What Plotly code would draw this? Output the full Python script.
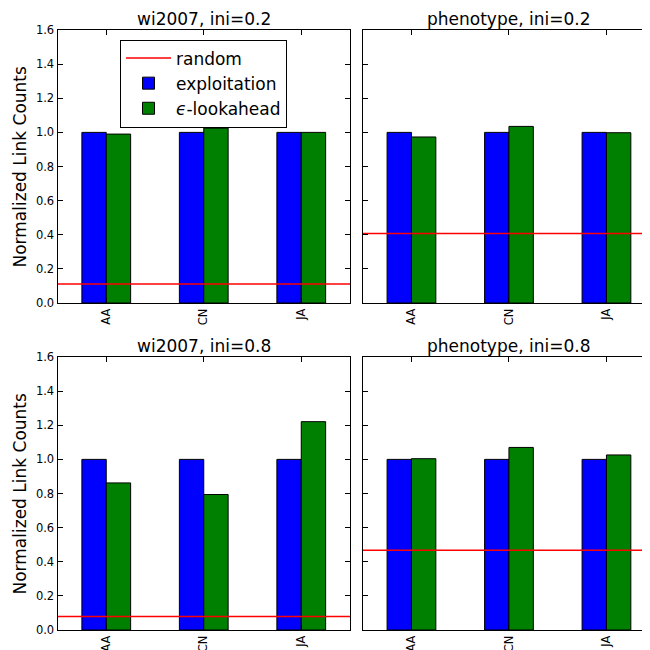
import plotly.graph_objects as go

categories = ["AA", "CN", "JA"]
panel_titles = ["wi2007, ini=0.2", "phenotype, ini=0.2", "wi2007, ini=0.8", "phenotype, ini=0.8"]
exploitation = [
    [1.0, 1.0, 1.0],
    [1.0, 1.0, 1.0],
    [1.0, 1.0, 1.0],
    [1.0, 1.0, 1.0],
]
lookahead = [
    [0.99, 1.025, 1.0],
    [0.973, 1.035, 0.998],
    [0.862, 0.794, 1.221],
    [1.004, 1.07, 1.026],
]
random_level = [0.111, 0.408, 0.079, 0.467]
y_ticks = [0.0, 0.2, 0.4, 0.6, 0.8, 1.0, 1.2, 1.4, 1.6]

# the page body adds an 8px margin; the figure is sized/offset to compensate
OFF = 8.0
W = H = 642
FONT = "DejaVu Sans"

# panel geometry in page pixels (left, right, top, bottom)
cols = [(57.5, 350.0), (362.7, 650.0)]
rows = [(30.0, 303.0), (357.0, 630.0)]
unit_px = (350.0 - 57.5) / 3.0


def px_x(v):
    return (v - OFF) / W


def px_y(v):
    return 1 - (v - OFF) / H


fig = go.Figure()
x_positions = list(range(len(categories)))

for p in range(4):
    r, c = divmod(p, 2)
    sfx = "" if p == 0 else str(p + 1)
    xa, ya = "x" + sfx, "y" + sfx
    first = p == 0
    fig.add_trace(go.Scatter(
        x=[-0.5, 2.5], y=[random_level[p]] * 2, mode="lines",
        line=dict(color="#ff0000", width=1.5), name="random",
        showlegend=first, xaxis=xa, yaxis=ya, legendrank=1))
    fig.add_trace(go.Bar(
        x=x_positions, y=exploitation[p], name="exploitation",
        marker=dict(color="#0000ff", line=dict(color="black", width=1)),
        showlegend=first, xaxis=xa, yaxis=ya, legendrank=2))
    fig.add_trace(go.Bar(
        x=x_positions, y=lookahead[p], name="<i>ϵ</i>-lookahead",
        marker=dict(color="#008000", line=dict(color="black", width=1)),
        showlegend=first, xaxis=xa, yaxis=ya, legendrank=3))

layout = dict(
    template="none",
    width=W, height=H, margin=dict(l=0, r=0, t=0, b=0, autoexpand=False),
    paper_bgcolor="white", plot_bgcolor="white",
    barmode="group", bargap=0.5, bargroupgap=0.0,
    font=dict(family=FONT, color="black", size=11.5),
    showlegend=True,
    legend=dict(x=px_x(120), y=px_y(39.5), xanchor="left", yanchor="top",
                bordercolor="black", borderwidth=1, bgcolor="white",
                font=dict(size=17, family=FONT), tracegroupgap=0,
                traceorder="normal", itemwidth=45),
)

annotations = []
for p in range(4):
    r, c = divmod(p, 2)
    sfx = "" if p == 0 else str(p + 1)
    l, rr = cols[c]
    t, b = rows[r]
    xr_hi = -0.5 + (rr - l) / unit_px
    layout["xaxis" + sfx] = dict(
        domain=[px_x(l), px_x(rr)], anchor="y" + sfx, range=[-0.5, xr_hi],
        tickvals=x_positions, ticktext=categories, tickangle=-90,
        ticks="inside", ticklen=5, tickcolor="black", showline=True,
        linecolor="black", linewidth=1, mirror="ticks", automargin=False,
        showgrid=False, zeroline=False, tickfont=dict(size=11.5, family=FONT))
    layout["yaxis" + sfx] = dict(
        domain=[px_y(b), px_y(t)], anchor="x" + sfx, range=[0, 1.6],
        tickvals=y_ticks, ticktext=["%.1f" % v for v in y_ticks],
        showticklabels=(c == 0), automargin=False,
        ticks="inside", ticklen=5, tickcolor="black", showline=True,
        linecolor="black", linewidth=1, mirror="ticks" if c == 0 else False,
        showgrid=False, zeroline=False, tickfont=dict(size=11.5, family=FONT))
    cx = (l + (l + 3 * unit_px)) / 2
    annotations.append(dict(
        text=panel_titles[p], xref="paper", yref="paper", x=px_x(cx),
        y=px_y(t - 11), xanchor="center", yanchor="middle", showarrow=False,
        font=dict(size=17, family=FONT, color="black")))
    if c == 0:
        annotations.append(dict(
            text="Normalized Link Counts", xref="paper", yref="paper",
            x=px_x(19), y=px_y((t + b) / 2), xanchor="center", yanchor="middle",
            textangle=-90, showarrow=False,
            font=dict(size=17, family=FONT, color="black")))

layout["annotations"] = annotations
fig.update_layout(**layout)
fig.write_html("out.html")
